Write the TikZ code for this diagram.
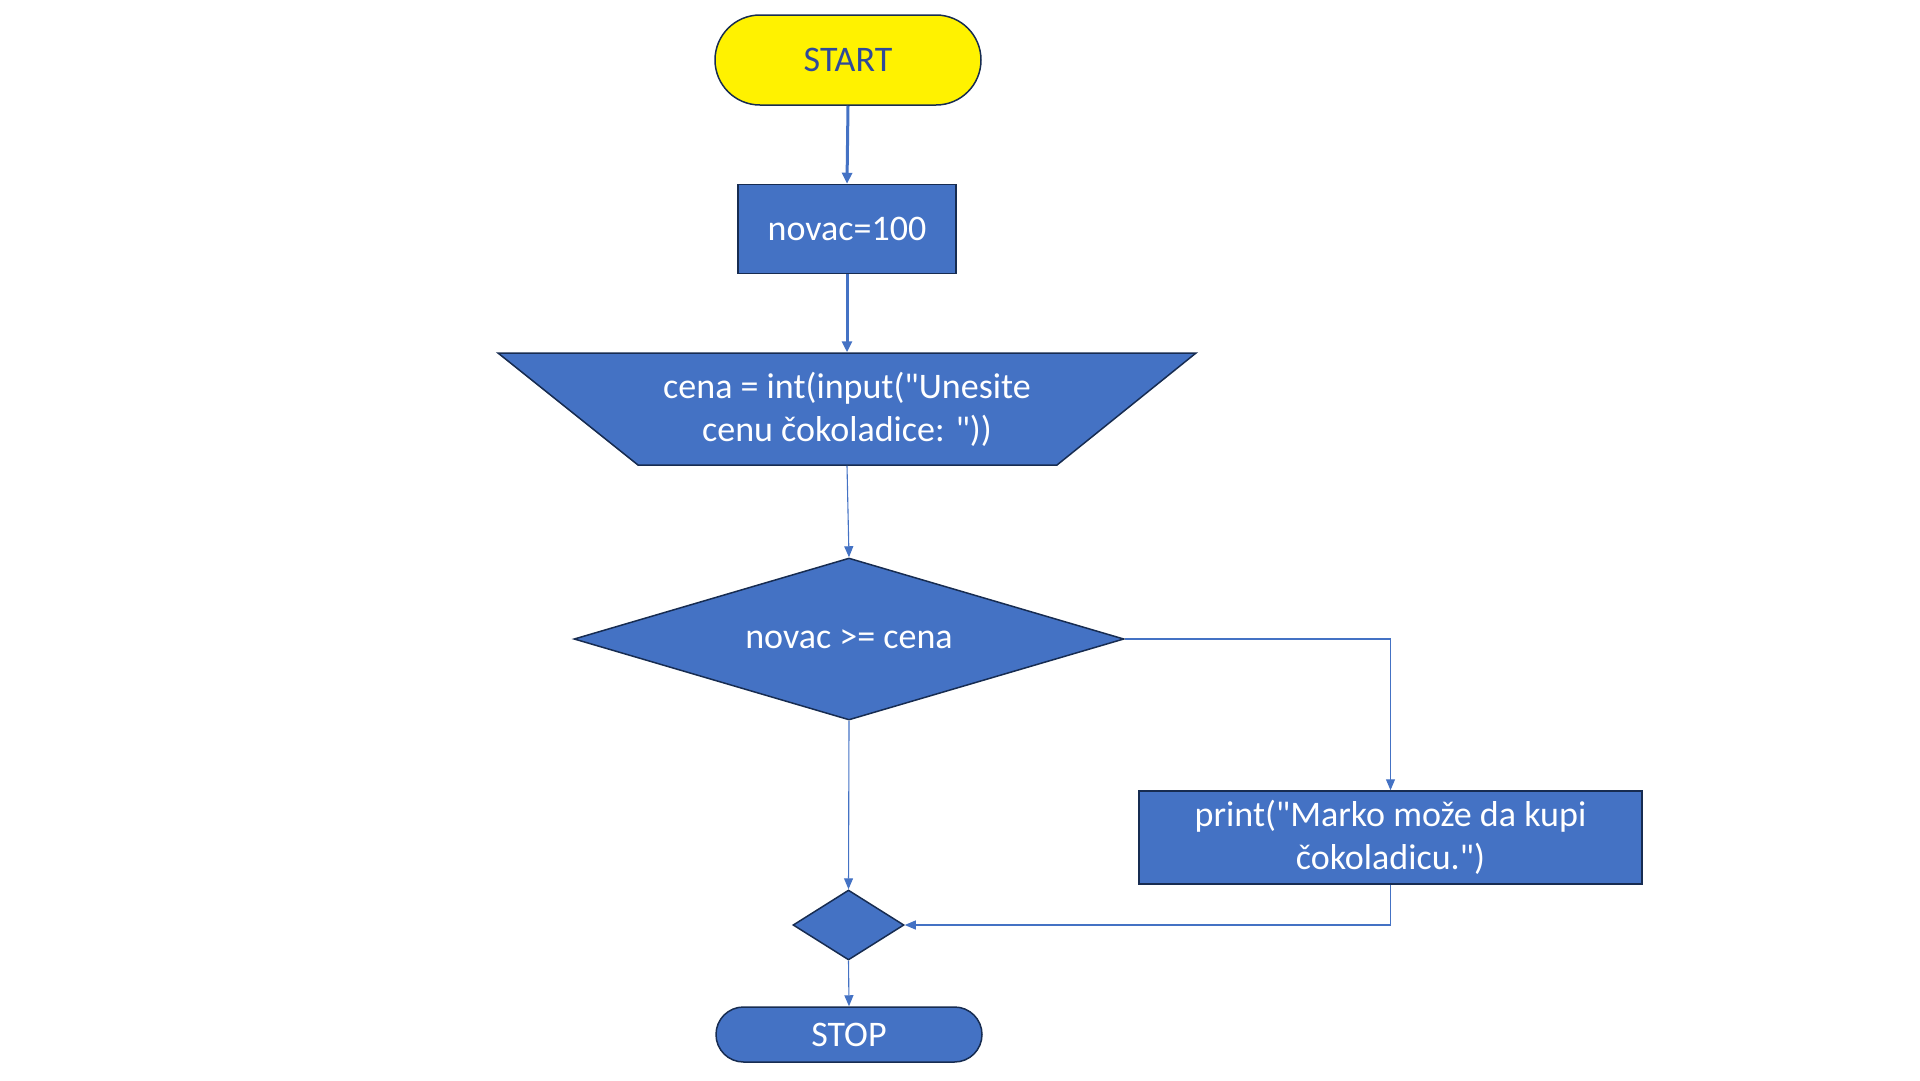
\documentclass[tikz,border=0pt]{standalone}
\usepackage{fontspec}
\newfontfamily\calib{Carlito}
\usetikzlibrary{shapes.geometric,arrows.meta}
\definecolor{boxblue}{HTML}{4472C4}
\definecolor{boxline}{HTML}{172C51}
\definecolor{starttext}{HTML}{2F4A9A}
\tikzset{
  shp/.style={draw=boxline, line width=1.5pt, fill=boxblue, text=white, inner sep=0pt, align=center,
    font=\calib\fontsize{36}{43}\selectfont},
  termbox/.style={shp, rectangle},
  procbox/.style={shp, rectangle},
  decbox/.style={shp, diamond},
  thickcon/.style={draw=boxblue, line width=3pt, -{Triangle[length=11pt,width=10pt]}},
  thincon/.style={draw=boxblue, line width=1.1pt, -{Triangle[length=11pt,width=9pt]}},
}
\begin{document}
\begin{tikzpicture}[x=1pt,y=-1pt]
\useasboundingbox (0,0) rectangle (1920,1080);
% START
\node[termbox, fill=yellow, text=starttext, minimum width=266pt, minimum height=90pt, rounded corners=45pt] (start) at (848,60) {START};
% novac=100
\node[procbox, minimum width=218pt, minimum height=89pt] (init) at (847,229) {novac=100};
% input trapezoid
\filldraw[draw=boxline, line width=1.5pt, fill=boxblue] (498,353) -- (1196,353) -- (1057,465) -- (638,465) -- cycle;
\node[shp, draw=none, fill=none, minimum width=698pt, minimum height=112pt] (inp) at (847,409) {cena = int(input("Unesite\\cenu čokoladice: "))};
% decision
\node[decbox, aspect=3.4, minimum width=550pt, minimum height=162pt] (dec) at (849,639) {novac >= cena};
% print
\node[procbox, minimum width=503pt, minimum height=93pt] (pr) at (1390.5,837.5) {print("Marko može da kupi\\čokoladicu.")};
% merge
\node[decbox, aspect=1.6, minimum width=111pt, minimum height=70pt] (mrg) at (848.5,925) {};
% STOP
\node[termbox, minimum width=266pt, minimum height=55pt, rounded corners=27.5pt] (stop) at (849,1034.5) {STOP};
% connectors
\draw[thickcon] (start.south) -- (init.north);
\draw[thickcon] (init.south) -- (inp.north);
\draw[thincon] (inp.south) -- (dec.north);
\draw[thincon] (dec.east) -| (pr.north);
\draw[thincon] (dec.south) -- (mrg.north);
\draw[thincon] (pr.south) |- (mrg.east);
\draw[thincon] (mrg.south) -- (stop.north);
\end{tikzpicture}
\end{document}
